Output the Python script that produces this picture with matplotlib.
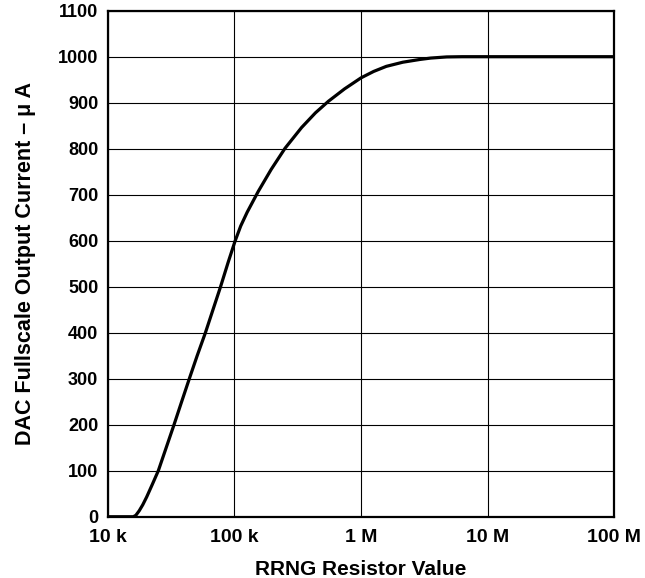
import matplotlib.pyplot as plt

plt.rcParams['font.family'] = ['Liberation Sans', 'DejaVu Sans']

# values (ohms, microamps)
resistance = [10e3, 15.85e3, 16.6e3, 17.66e3, 18.84e3, 20.23e3, 22.39e3, 25.0e3,
              28.84e3, 33.27e3, 38.0e3, 43.95e3, 50.7e3, 58.9e3, 67.6e3, 77.6e3,
              89.1e3, 101e3, 112e3, 126e3, 154e3, 195e3, 251e3, 339e3, 436.5e3, 552e3,
              741e3, 1.0e6, 1.26e6, 1.585e6, 2.14e6, 2.92e6, 3.55e6, 4.75e6, 6.3e6, 100e6]
current = [0, 0, 3, 13, 26, 43, 70, 100,
           150, 200, 248, 300, 350, 400, 450, 500,
           553, 599, 632, 662, 707, 755, 801, 846, 878, 903,
           930, 954, 968, 979, 988, 994, 997, 999.5, 1000, 1000]

xticks = [1e4, 1e5, 1e6, 1e7, 1e8]
xticklabels = ['10 k', '100 k', '1 M', '10 M', '100 M']
yticks = list(range(0, 1101, 100))

fig = plt.figure(figsize=(6.45, 5.78), dpi=100)
ax = fig.add_axes([0.1674, 0.106, 0.952 - 0.1674, 0.9815 - 0.106])

ax.plot(resistance, current, color='black', lw=2.3, solid_joinstyle='round', zorder=3)

ax.set_xscale('log')
ax.set_xlim(1e4, 1e8)
ax.set_ylim(0, 1100)
ax.set_xticks(xticks)
ax.set_xticklabels(xticklabels)
ax.xaxis.set_minor_locator(plt.NullLocator())
ax.set_yticks(yticks)
ax.grid(True, color='black', lw=0.8)
ax.tick_params(length=0)
ax.tick_params(axis='x', labelsize=14, pad=9)
ax.tick_params(axis='y', labelsize=13, pad=7)
for lab in ax.get_xticklabels() + ax.get_yticklabels():
    lab.set_fontweight('bold')
for sp in ax.spines.values():
    sp.set_linewidth(1.6)

ax.set_xlabel('RRNG Resistor Value', fontsize=15, fontweight='bold', labelpad=10)
ax.set_ylabel('DAC Fullscale Output Current – \u03bc A', fontsize=15.5, fontweight='bold', labelpad=16)

fig.savefig('out.png', dpi=100)
